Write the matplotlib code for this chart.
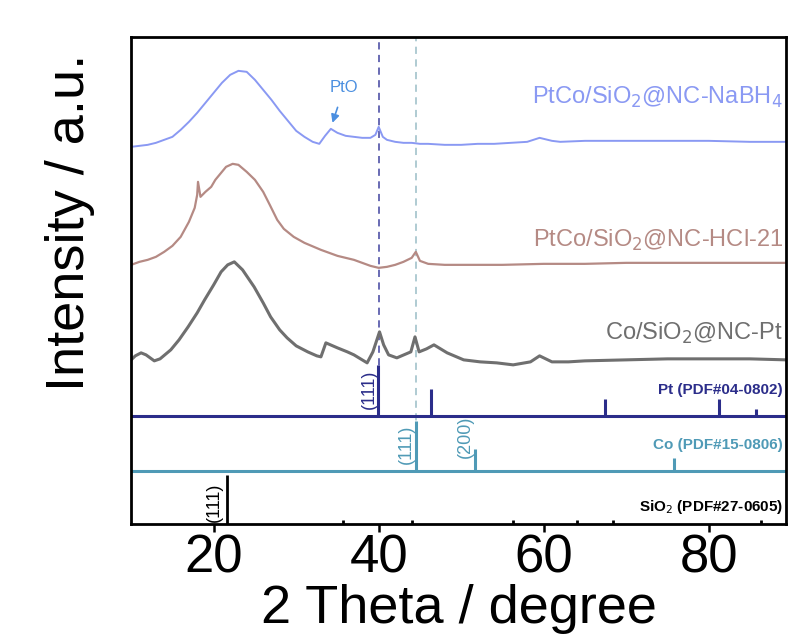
import numpy as np
import matplotlib
matplotlib.use("Agg")
import matplotlib.pyplot as plt

plt.rcParams['font.family'] = ['Liberation Sans', 'DejaVu Sans']

# sample curves: 2theta (deg) and intensity (a.u., offset already included)
naBH4_x = [10, 11, 12, 13, 14, 15, 16, 17, 18, 19, 20, 21, 22, 23, 24, 25, 26, 27, 28, 29,
           30, 31, 32, 32.8, 33.5, 34.2, 35, 36, 37, 38, 39, 39.6, 40.0, 40.5, 41, 42, 43, 44,
           45, 46, 48, 50, 52, 54, 56, 58, 59.5, 61, 62, 65, 70, 75, 80, 85, 89.4]
naBH4_y = [377, 378, 379, 381, 384, 387, 394, 402, 411, 421, 431, 441, 449, 453, 452, 444,
           434, 424, 413, 403, 393, 387, 382, 380, 388, 395, 391, 388, 387, 386, 386, 389,
           397, 387, 384, 382, 381, 381, 380, 380, 379, 379, 380, 380, 381, 382, 386, 383,
           382, 383, 383, 383, 383, 382, 382]

hcl_x = [10, 11, 12, 13, 14, 15, 16, 17, 17.7, 18.0, 18.1, 18.4, 19, 19.7, 20.2, 20.9, 21.5,
         22.3, 23, 24, 25, 26, 26.8, 27.7, 28.5, 29.7, 31, 33, 35, 37, 39, 40, 41, 42, 43, 44,
         44.5, 45, 46, 48, 50, 55, 60, 65, 70, 75, 80, 85, 89.4]
hcl_y = [259, 262, 264, 267, 272, 278, 287, 302, 316, 329, 342, 327, 332, 337, 344, 351, 357,
         360, 359, 352, 344, 332, 319, 304, 295, 287, 281, 274, 268, 264, 258, 256, 257, 259,
         262, 266, 272, 263, 260, 259, 259, 259, 260, 260, 261, 261, 261, 261, 261]

copt_x = [10, 10.5, 11.2, 11.8, 12.8, 13.5, 14.8, 15.8, 16.9, 18, 18.9, 20, 20.9, 21.7, 22.5,
          23.5, 24.9, 26, 26.9, 28, 28.9, 30, 31.4, 32.5, 33, 33.6, 35, 36.2, 37, 38.2, 38.6,
          39.3, 40.1, 40.6, 41.2, 42.2, 43.9, 44.4, 44.9, 45.8, 46.7, 48.3, 50.3, 52.3, 54.3,
          56.3, 58.4, 59.5, 61, 63, 65, 70, 75, 80, 85, 89.4]
copt_y = [164, 168, 171, 169, 163, 165, 174, 184, 197, 211, 224, 239, 252, 259, 262, 254, 237,
          221, 207, 194, 186, 178, 172, 168, 167, 181, 176, 172, 169, 163, 161, 172, 192, 179,
          169, 166, 172, 187, 172, 175, 179, 171, 164, 162, 161, 159, 162, 168, 162, 162, 163,
          164, 165, 165, 165, 164]

# reference patterns
pt_pos = [39.9, 46.4, 67.4, 81.3, 85.7]
pt_top = [159, 135, 125, 125, 115]
pt_base = 107.5
co_pos = [44.5, 51.7, 75.8]
co_top = [103, 75, 66]
co_base = 53.3
sio2_pos = [21.6, 35.7, 44.0, 56.3, 64.0, 68.4, 86.3]
sio2_top = [49, 4, 4, 4, 4, 4, 4]

c_blue = '#8a99f3'
c_brown = '#b58a84'
c_gray = '#6f6f6f'
c_pt = '#2b2d8a'
c_co = '#4f9ab6'

fig = plt.figure(figsize=(7.95, 6.35), dpi=100)
ax = fig.add_axes([0.165, 0.175, 0.824, 0.767])

# dashed guide lines
ax.vlines(40.0, pt_base, 487, colors='#5d5fae', linestyles=(0, (4, 3)), lw=1.3, zorder=1)
ax.vlines(44.5, co_base, 487, colors='#a9c7cf', linestyles=(0, (4, 3)), lw=1.3, zorder=1)

ax.plot(naBH4_x, naBH4_y, color=c_blue, lw=1.4)
ax.plot(hcl_x, hcl_y, color=c_brown, lw=1.6)
ax.plot(copt_x, copt_y, color=c_gray, lw=2.2)

ax.axhline(pt_base, color=c_pt, lw=2.2)
ax.vlines(pt_pos, pt_base, pt_top, colors=c_pt, lw=2.2)
ax.axhline(co_base, color=c_co, lw=2.2)
ax.vlines(co_pos, co_base, co_top, colors=c_co, lw=2.2)
ax.vlines(sio2_pos, 0, sio2_top, colors='black', lw=2.0)

# sample labels
ax.text(89.0, 426, 'PtCo/SiO$_2$@NC-NaBH$_4$', color=c_blue, fontsize=17, ha='right', va='center')
ax.text(89.0, 283, 'PtCo/SiO$_2$@NC-HCl-21', color=c_brown, fontsize=17, ha='right', va='center')
ax.text(89.0, 190, 'Co/SiO$_2$@NC-Pt', color=c_gray, fontsize=17, ha='right', va='center')

ax.text(89.0, 134, 'Pt (PDF#04-0802)', color=c_pt, fontsize=11, fontweight='bold', ha='right', va='center')
ax.text(89.0, 79, 'Co (PDF#15-0806)', color=c_co, fontsize=11, fontweight='bold', ha='right', va='center')
ax.text(89.0, 17, 'SiO$_2$ (PDF#27-0605)', color='black', fontsize=11, fontweight='bold', ha='right', va='center')

# hkl labels
ax.text(38.9, 135, '(111)', color=c_pt, fontsize=13, rotation=90, ha='center', va='center')
ax.text(43.3, 80, '(111)', color=c_co, fontsize=13, rotation=90, ha='center', va='center')
ax.text(50.5, 87, '(200)', color=c_co, fontsize=13, rotation=90, ha='center', va='center')
ax.text(20.1, 22, '(111)', color='black', fontsize=13, rotation=90, ha='center', va='center')

ax.annotate('PtO', xy=(34.4, 401), xytext=(35.8, 436), color='#4b8fe0', fontsize=12,
            ha='center', va='center',
            arrowprops=dict(arrowstyle='-|>', color='#4b8fe0', lw=1.2, shrinkA=7, shrinkB=0))

ax.set_xlim(10, 89.4)
ax.set_ylim(0, 487)
ax.set_xticks([20, 40, 60, 80])
ax.set_yticks([])
ax.tick_params(axis='x', direction='out', length=6, width=1.8, labelsize=38, pad=1)
for s in ax.spines.values():
    s.set_linewidth(2.0)

ax.set_xlabel('2 Theta / degree', fontsize=39, labelpad=0)
ax.set_ylabel('Intensity / a.u.', fontsize=39)
ax.yaxis.set_label_coords(-0.055, 0.62)

fig.savefig('out.png', dpi=100)
